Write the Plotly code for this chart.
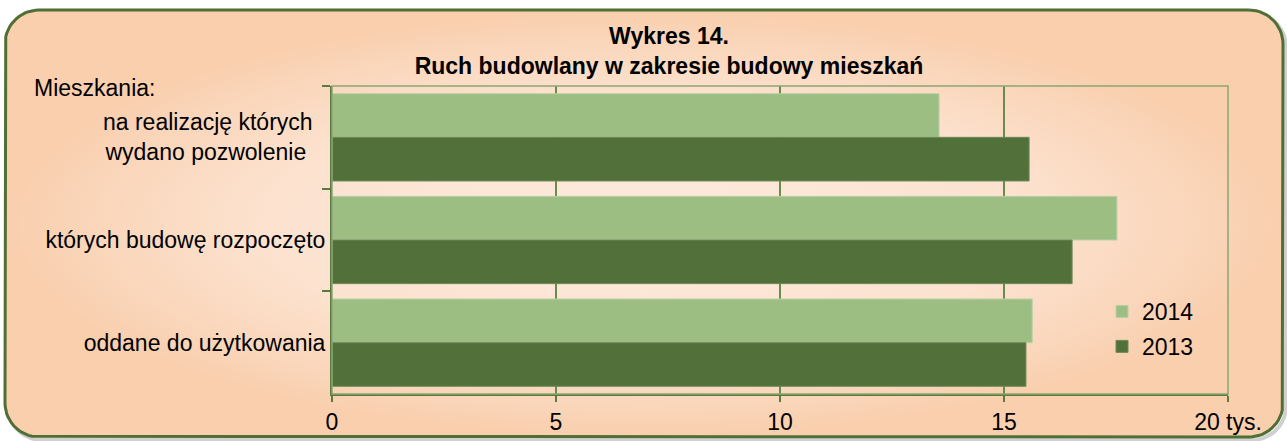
import numpy as np
import plotly.graph_objects as go

W, H = 1287, 441

categories = ["na realizację których\u00a0\u00a0<br>wydano pozwolenie\u00a0\u00a0\u00a0",
              "których budowę rozpoczęto",
              "oddane do użytkowania"]
series_names = ["2014", "2013"]
values_2014 = [13.55, 17.52, 15.63]
values_2013 = [15.56, 16.52, 15.49]
tick_vals = [0, 5, 10, 15, 20]
tick_text = ["0", "5", "10", "15", "20 tys."]

LIGHT = "#9dbe83"
DARK = "#52713a"
FONT = "Liberation Sans, Arial, sans-serif"
FS = 23


def rounded_rect(x0, y0, x1, y1, r, n=16):
    xs, ys = [], []
    corners = [(x1 - r, y0 + r, -np.pi / 2, 0),
               (x1 - r, y1 - r, 0, np.pi / 2),
               (x0 + r, y1 - r, np.pi / 2, np.pi),
               (x0 + r, y0 + r, np.pi, 1.5 * np.pi)]
    for cx, cy, a0, a1 in corners:
        t = np.linspace(a0, a1, n)
        xs += list(cx + r * np.cos(t))
        ys += list(cy + r * np.sin(t))
    xs.append(xs[0]); ys.append(ys[0])
    return xs, ys


fig = go.Figure()

# frame shadow
sx, sy = rounded_rect(8, 13, 1286, 440, 34)
fig.add_trace(go.Scatter(x=sx, y=sy, mode="lines", line=dict(color="rgba(120,120,120,0.35)", width=4),
                         hoverinfo="skip", showlegend=False, xaxis="x", yaxis="y"))
# frame with gradient
fx, fy = rounded_rect(5, 10, 1283, 437, 34)
fig.add_trace(go.Scatter(x=fx, y=fy, mode="lines", fill="toself",
                         fillgradient=dict(type="radial",
                                           colorscale=[[0, "#fdebdd"], [0.6, "#fce2cf"], [1, "#f9cfae"]]),
                         line=dict(color="#4f6f35", width=3),
                         hoverinfo="skip", showlegend=False, xaxis="x", yaxis="y"))

fig.add_trace(go.Bar(name=series_names[0], y=categories, x=values_2014, orientation="h",
                     marker=dict(color=LIGHT, line=dict(color="#b9d0a6", width=1)),
                     xaxis="x2", yaxis="y2", legendgroup="a"))
fig.add_trace(go.Bar(name=series_names[1], y=categories, x=values_2013, orientation="h",
                     marker=dict(color=DARK, line=dict(color="#6d8a57", width=1)),
                     xaxis="x2", yaxis="y2", legendgroup="b"))

x0p, x1p = 332 / W, 1228 / W
ytop, ybot = 1 - 86 / H, 1 - 394 / H

fig.update_layout(
    width=W, height=H,
    margin=dict(l=0, r=0, t=0, b=0, pad=0, autoexpand=False),
    paper_bgcolor="white",
    plot_bgcolor="rgba(0,0,0,0)",
    barmode="group",
    bargap=0.15,
    bargroupgap=0,
    font=dict(family=FONT, size=FS, color="black"),
    xaxis=dict(domain=[0, 1], range=[0, W], visible=False, fixedrange=True, automargin=False),
    yaxis=dict(domain=[0, 1], range=[H, 0], visible=False, fixedrange=True, automargin=False),
    xaxis2=dict(domain=[x0p, x1p], anchor="y2", range=[0, 20], automargin=False,
                tickvals=tick_vals, ticktext=tick_text,
                showgrid=True, gridcolor="#6a8a52", gridwidth=1.5,
                showline=True, linecolor="#5b7a3e", linewidth=2,
                ticks="outside", ticklen=6, tickwidth=2, tickcolor="#5b7a3e",
                tickfont=dict(size=FS), zeroline=False, fixedrange=True),
    yaxis2=dict(domain=[ybot, ytop], anchor="x2", autorange="reversed", automargin=False,
                showline=True, linecolor="#5b7a3e", linewidth=2,
                ticks="outside", ticklen=8, tickwidth=2, tickcolor="#5b7a3e",
                tickson="boundaries", showgrid=False, fixedrange=True,
                tickfont=dict(size=FS)),
    title=dict(text="<b>Wykres 14.<br>Ruch budowlany w zakresie budowy mieszkań</b>",
               x=669 / W, xanchor="center", y=1 - 44 / H, yanchor="top",
               font=dict(size=FS, family=FONT, color="black")),
    legend=dict(x=1102 / W, y=1 - 290 / H, xanchor="left", yanchor="top",
                bgcolor="rgba(0,0,0,0)", font=dict(size=FS),
                itemwidth=30, tracegroupgap=2, traceorder="grouped"),
    annotations=[dict(text="Mieszkania:", x=32 / W, y=1 - 88 / H, xref="paper", yref="paper",
                      xanchor="left", yanchor="middle", showarrow=False, font=dict(size=FS))],
    shapes=[dict(type="rect", xref="x2 domain", yref="y2 domain", x0=0, x1=1, y0=0, y1=1,
                 line=dict(color="#8aa673", width=1.5), layer="above")],
)

fig.write_html("out.html", config={"displayModeBar": False},
               post_script="document.body.style.margin='0';document.body.style.overflow='hidden';")
